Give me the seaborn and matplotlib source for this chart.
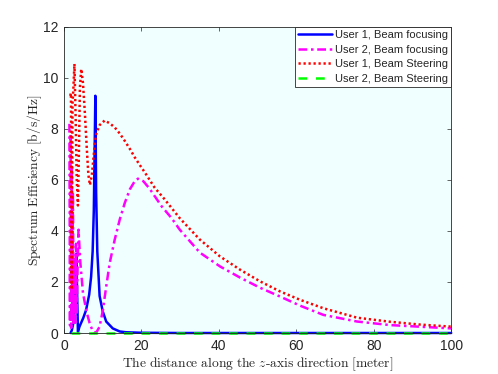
import matplotlib
matplotlib.use("Agg")
import matplotlib.pyplot as plt
import seaborn as sns
import pandas as pd

# ---- data ----
u1_bf_x = [1.7, 2.0, 2.3, 2.7, 3.0, 3.2, 3.4, 3.6, 4.0, 5.0, 5.7, 6.5, 7.0, 7.4, 7.7, 7.9, 8.1,
           8.3, 8.6, 9.2, 10.0, 10.9, 12.6, 14.4, 16.0, 20.0, 30.0, 50.0, 100.0]
u1_bf_y = [0.0, 0.1, 0.3, 0.8, 2.2, 3.1, 1.5, 0.05, 0.25, 0.6, 0.9, 1.5, 2.2, 3.2, 4.8, 7.0, 9.3,
           5.5, 3.2, 1.45, 0.85, 0.45, 0.18, 0.06, 0.03, 0.01, 0.0, 0.0, 0.0]

u2_bf_x = [1.4, 1.55, 1.7, 1.85, 2.0, 2.15, 2.3, 2.5, 2.7, 2.9, 3.1, 3.3, 3.5, 3.75, 4.2, 4.9, 5.8,
           6.6, 7.3, 7.9, 8.5, 9.2, 10.05, 10.9, 11.8, 13.1, 14.4, 15.7, 17.0, 18.3, 19.1, 20.5,
           22.1, 25.2, 27.8, 29.9, 35.1, 40.3, 45.5, 50.7, 55.8, 61.0, 67.0, 75.7, 84.3, 100.0]
u2_bf_y = [8.2, 0.3, 7.8, 0.2, 6.5, 0.5, 5.5, 0.3, 3.0, 0.4, 3.5, 0.8, 2.5, 4.05, 2.8, 1.57, 0.85,
           0.4, 0.12, 0.0, 0.06, 0.25, 0.9, 1.82, 2.74, 3.66, 4.45, 5.1, 5.63, 5.96, 6.05, 5.95,
           5.66, 4.97, 4.5, 4.05, 3.15, 2.61, 2.17, 1.77, 1.43, 1.07, 0.71, 0.45, 0.31, 0.18]

u1_bs_x = [1.6, 1.8, 2.0, 2.2, 2.4, 2.7, 3.0, 3.3, 3.6, 3.9, 4.1, 4.45, 4.9, 5.4, 5.9, 6.3, 6.7,
           7.2, 7.9, 8.3, 9.2, 10.5, 11.8, 13.1, 14.4, 15.7, 17.0, 18.3, 19.6, 20.9, 23.4, 26.0,
           29.9, 35.1, 40.3, 45.5, 50.7, 55.8, 61.0, 67.0, 75.7, 84.3, 92.0, 100.0]
u1_bs_y = [9.3, 9.4, 1.7, 9.0, 9.5, 10.55, 8.5, 6.0, 5.0, 7.5, 9.6, 10.35, 9.8, 8.6, 7.2, 6.2, 5.8,
           6.2, 7.33, 7.8, 8.15, 8.33, 8.22, 8.06, 7.82, 7.53, 7.22, 6.88, 6.58, 6.29, 5.7, 5.24,
           4.5, 3.66, 3.0, 2.48, 2.02, 1.63, 1.30, 0.97, 0.6, 0.44, 0.33, 0.25]

u2_bs_x = [1.9, 10.0, 30.0, 50.0, 70.0, 100.0]
u2_bs_y = [0.0, 0.0, 0.0, 0.0, 0.0, 0.0]

labels = ["User 1, Beam focusing", "User 2, Beam focusing",
          "User 1, Beam Steering", "User 2, Beam Steering"]
colors = ["#0000FF", "#FF00FF", "#FF0000", "#00FF00"]

sns.set_style("ticks")
plt.rcParams["font.family"] = ["Liberation Sans", "DejaVu Sans"]
plt.rcParams["mathtext.fontset"] = "cm"

fig = plt.figure(figsize=(4.98, 3.74), dpi=100)
ax = fig.add_axes([0.1285, 0.1096, 0.7775, 0.8185])
ax.set_facecolor("#F0FFFF")

series = [(u1_bf_x, u1_bf_y), (u2_bf_x, u2_bf_y), (u1_bs_x, u1_bs_y), (u2_bs_x, u2_bs_y)]
styles = ["-", (0, (3.5, 1.5, 1, 1.5)), (0, (0.9, 1.1)), (0, (3.5, 3.5))]
for (xs, ys), lab, col, ls in zip(series, labels, colors, styles):
    df = pd.DataFrame({"x": xs, "y": ys})
    sns.lineplot(data=df, x="x", y="y", ax=ax, color=col, lw=1.8, label=lab,
                 linestyle=ls, estimator=None, sort=False, clip_on=False)

ax.set_xlim(0, 100)
ax.set_ylim(0, 12)
ax.set_xticks([0, 20, 40, 60, 80, 100])
ax.set_yticks([0, 2, 4, 6, 8, 10, 12])
ax.tick_params(direction="in", top=True, right=True, length=3, width=0.5,
               labelsize=10, colors="#262626", pad=4)
for s in ax.spines.values():
    s.set_linewidth(0.6)
    s.set_color("#262626")

ax.set_xlabel(r"$\mathrm{The\ distance\ along\ the\ }z\mathrm{\text{-}axis\ direction\ [meter]}$",
              fontsize=9.7, color="#262626", labelpad=2)
ax.set_ylabel(r"$\mathrm{Spectrum\ Efficiency\ [b/s/Hz]}$", fontsize=9.7, color="#262626",
              labelpad=-1)

leg = ax.legend(loc="upper right", fontsize=8, frameon=True, fancybox=False,
                borderaxespad=0, handlelength=3.0, handletextpad=0.3,
                labelspacing=0.4, borderpad=0.3)
leg.get_frame().set_edgecolor("#262626")
leg.get_frame().set_linewidth(0.6)
leg.get_frame().set_facecolor("white")
leg.get_frame().set_alpha(1)

fig.savefig("out.png", dpi=100)
